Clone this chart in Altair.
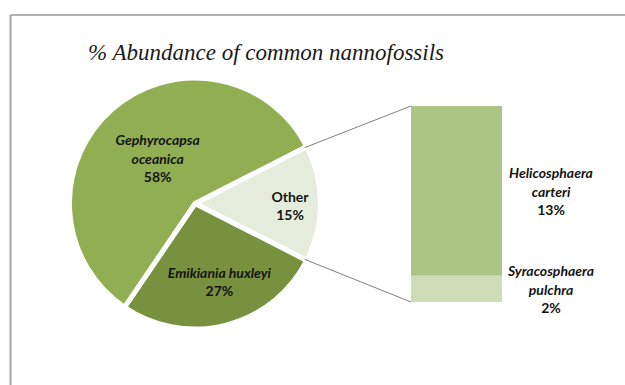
import math
import altair as alt
import pandas as pd

# Main pie: share of each taxon (%)
pie_names = ["Other", "Emikiania huxleyi", "Gephyrocapsa oceanica"]
pie_text = ["Other", "Emikiania huxleyi", "Gephyrocapsa\noceanica"]
pie_values = [15, 27, 58]

# Breakdown of the "Other" slice, bottom segment first
bar_names = ["Syracosphaera pulchra", "Helicosphaera carteri"]
bar_text = ["Syracosphaera\npulchra", "Helicosphaera\ncarteri"]
bar_values = [2, 13]

title_text = "% Abundance of common nannofossils"

colors = {
    "Other": "#e6ecdb",
    "Emikiania huxleyi": "#77913f",
    "Gephyrocapsa oceanica": "#8faf52",
    "Syracosphaera pulchra": "#cedcb7",
    "Helicosphaera carteri": "#adc584",
}

pie_df = pd.DataFrame({
    "name": pie_names,
    "lines": pie_text,
    "value": pie_values,
    "order": list(range(len(pie_names))),
})
bar_df = pd.DataFrame({
    "name": bar_names,
    "lines": bar_text,
    "value": bar_values,
    "order": list(range(len(bar_names))),
    "grp": ["Other"] * len(bar_names),
})

# ---- layout (pixels); the plot area is the breakdown bar ----
BAR_W, BAR_H = 91, 196
PAD = {"left": 411, "top": 106, "right": 123, "bottom": 83}
CX, CY = 195 - PAD["left"], 203.5 - PAD["top"]   # pie centre, plot coordinates
R_OUT = 125.5
GAP = 5
LINE_H = 18.5
FONT = "Lato"
FS = 14
INK = "#141414"

other_share = pie_values[0] / sum(pie_values)
start = math.pi / 2 - other_share * math.pi        # centre "Other" on the right
theta_scale = alt.Scale(domain=[0, sum(pie_values)], range=[start, start + 2 * math.pi])
color_scale = alt.Scale(domain=list(colors), range=list(colors.values()))

layers = []

# pie wedges
layers.append(
    alt.Chart(pie_df).mark_arc(outerRadius=R_OUT, stroke="white", strokeWidth=GAP).encode(
        theta=alt.Theta("value:Q", stack=True, scale=theta_scale),
        order=alt.Order("order:Q"),
        color=alt.Color("name:N", scale=color_scale, legend=None),
        x=alt.value(CX),
        y=alt.value(CY),
    )
)

# pie labels: radius / nudges per slice
pie_label_style = {
    "Gephyrocapsa oceanica": dict(radius=58, dx=1, dy=0, italic=True),
    "Emikiania huxleyi": dict(radius=82, dx=4, dy=0, italic=True),
    "Other": dict(radius=95, dx=0, dy=3.5, italic=False),
}


def pie_base():
    return (
        alt.Chart(pie_df)
        .transform_window(cum="sum(value)", sort=[alt.SortField("order")])
        .transform_calculate(mid="datum.cum - datum.value / 2", pct="datum.value + '%'")
    )


for name, lines in zip(pie_names, pie_text):
    st = pie_label_style[name]
    k = lines.count("\n") + 1          # lines in the name; one more for the percentage
    half = k * LINE_H / 2
    common = dict(radius=st["radius"], dx=st["dx"], font=FONT, fontSize=FS, fontWeight="bold",
                  color=INK, baseline="middle", align="center")
    enc = dict(theta=alt.Theta("mid:Q", scale=theta_scale, stack=False), x=alt.value(CX), y=alt.value(CY))
    base = pie_base().transform_filter(alt.datum.name == name)
    layers.append(
        base.mark_text(dy=st["dy"] - half, lineBreak="\n", lineHeight=LINE_H,
                       fontStyle="italic" if st["italic"] else "normal", **common)
        .encode(text="lines:N", **enc)
    )
    layers.append(
        base.mark_text(dy=st["dy"] + half, **common).encode(text="pct:N", **enc)
    )

# breakdown bar
layers.append(
    alt.Chart(bar_df).mark_bar().encode(
        x=alt.X("grp:N", axis=None, scale=alt.Scale(paddingInner=0, paddingOuter=0)),
        y=alt.Y("value:Q", stack=True, axis=None,
                scale=alt.Scale(domain=[0, sum(bar_values)], nice=False)),
        order=alt.Order("order:Q"),
        color=alt.Color("name:N", scale=color_scale, legend=None),
    )
)

bar_lab = (
    alt.Chart(bar_df)
    .transform_window(cum="sum(value)", sort=[alt.SortField("order")])
    .transform_calculate(mid="datum.cum - datum.value / 2", pct="datum.value + '%'")
)
LAB_DX = 94.5
LAB_SHIFT = 2
layers.append(
    bar_lab.mark_text(dx=LAB_DX, dy=LAB_SHIFT - LINE_H, lineBreak="\n", lineHeight=LINE_H, font=FONT,
                      fontSize=FS, fontWeight="bold", fontStyle="italic", color=INK, baseline="middle")
    .encode(x=alt.X("grp:N"), y=alt.Y("mid:Q"), text="lines:N")
)
layers.append(
    bar_lab.mark_text(dx=LAB_DX, dy=LAB_SHIFT + LINE_H, font=FONT, fontSize=FS, fontWeight="bold",
                      color=INK, baseline="middle")
    .encode(x=alt.X("grp:N"), y=alt.Y("mid:Q"), text="pct:N")
)

# connector lines from the "Other" wedge corners to the bar's left corners
r_vis = R_OUT - GAP / 2
a0, a1 = start, start + 2 * math.pi * other_share
one = pd.DataFrame({"k": [0]})
for ang, bar_y in ((a0, 0), (a1, BAR_H)):
    layers.append(
        alt.Chart(one).mark_rule(color="#7f7f7f", strokeWidth=1).encode(
            x=alt.value(CX + r_vis * math.sin(ang)),
            y=alt.value(CY - r_vis * math.cos(ang)),
            x2=alt.value(0),
            y2=alt.value(bar_y),
        )
    )

# chart frame (top and left edges)
FX, FY = 10.5 - PAD["left"], 15 - PAD["top"]
layers.append(
    alt.Chart(one).mark_rule(color="#9a9a9a", strokeWidth=1.5).encode(
        x=alt.value(FX), x2=alt.value(625 - PAD["left"]), y=alt.value(FY)
    )
)
layers.append(
    alt.Chart(one).mark_rule(color="#a6a6a6", strokeWidth=2).encode(
        x=alt.value(FX), y=alt.value(FY), y2=alt.value(385 - PAD["top"])
    )
)

# title
layers.append(
    alt.Chart(one).mark_text(
        text=title_text, font="Liberation Serif", fontSize=23, fontStyle="italic",
        color="#1a1a1a", align="center", baseline="alphabetic",
    ).encode(x=alt.value(266 - PAD["left"]), y=alt.value(60 - PAD["top"]))
)

chart = (
    alt.layer(*layers)
    .properties(width=BAR_W, height=BAR_H, padding=PAD, autosize="none", background="white")
    .configure_view(strokeWidth=0)
)

chart.save("out.html", embed_options={"renderer": "svg", "actions": False})
